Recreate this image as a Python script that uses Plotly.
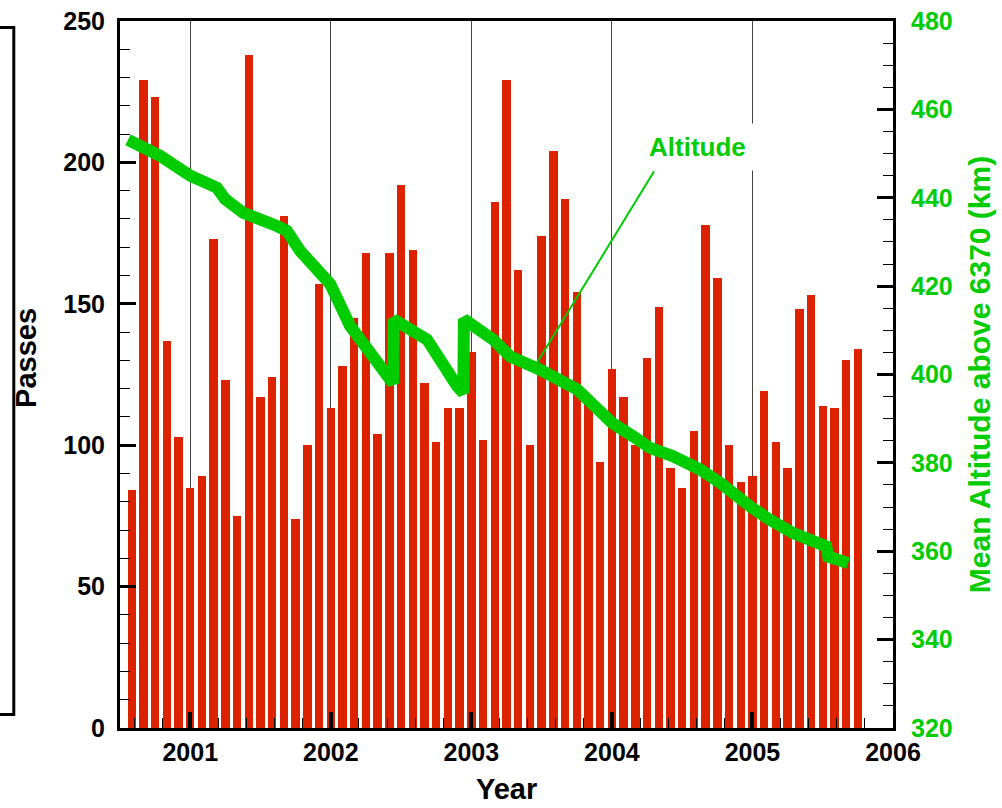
import plotly.graph_objects as go

# Monthly pass counts (bar x = decimal year of month start)
bar_years = [2000 + k / 12 for k in range(7, 70)]
passes = [84, 229, 223, 137, 103,
          85, 89, 173, 123, 75, 238, 117, 124, 181, 74, 100, 157,
          113, 128, 145, 168, 104, 168, 192, 169, 122, 101, 113, 113,
          133, 102, 186, 229, 162, 100, 174, 204, 187, 154, 117, 94,
          127, 117, 100, 131, 149, 92, 85, 105, 178, 159, 100, 87,
          89, 119, 101, 92, 148, 153, 114, 113, 130, 134]

# Mean altitude curve (decimal year, km)
alt_years = [2000.557, 2000.785, 2001.0, 2001.188, 2001.247, 2001.376, 2001.617,
             2001.688, 2001.781, 2001.995, 2002.137, 2002.279, 2002.443, 2002.447,
             2002.585, 2002.685, 2002.898, 2002.943, 2002.947, 2003.062, 2003.155,
             2003.276, 2003.489, 2003.753, 2003.824, 2003.938, 2004.002, 2004.151,
             2004.272, 2004.436, 2004.628, 2004.770, 2004.913, 2004.998, 2005.126,
             2005.290, 2005.525, 2005.539, 2005.681]
altitude = [453.1, 449.5, 445.0, 442.3, 439.7, 436.6, 433.6,
            432.5, 428.0, 420.5, 411.0, 404.9, 398.0, 412.5,
            410.2, 407.9, 397.4, 395.8, 412.5, 410.2, 407.9,
            404.1, 401.1, 396.6, 394.3, 391.3, 389.0, 386.0,
            383.4, 381.5, 378.5, 375.5, 371.7, 369.8, 367.1,
            364.1, 361.1, 358.8, 357.3]

year_ticks = [2001, 2002, 2003, 2004, 2005, 2006]
year_labels = ["2001", "2002", "2003", "2004", "2005", "2006"]

RED = "#dd2200"
GREEN = "#00cc00"
FONT = "Liberation Sans, Arial, Helvetica, sans-serif"

fig = go.Figure()
fig.add_trace(go.Bar(x=bar_years, y=passes, width=0.06,
                     marker=dict(color=RED, line=dict(width=0)),
                     showlegend=False))
fig.add_trace(go.Scatter(x=alt_years, y=altitude, yaxis="y2", mode="lines",
                         line=dict(color=GREEN, width=12), showlegend=False))

fig.update_layout(
    width=1002, height=808,
    margin=dict(l=120, r=109, t=21, b=80, pad=0),
    paper_bgcolor="white", plot_bgcolor="white",
    font=dict(family=FONT, size=25, color="black", weight="bold"),
    xaxis=dict(range=[2000.5, 2006], tickvals=year_ticks, ticktext=year_labels,
               automargin=False, ticklabeloverflow="allow",
               ticks="inside", ticklen=16, tickwidth=4, tickcolor="black",
               showline=True, linewidth=3, linecolor="black", mirror=True,
               showgrid=True, gridcolor="#444444", gridwidth=1, zeroline=False,
               ticklabelstandoff=0,
               minor=dict(dtick=0.2, tick0=2001, ticks="inside", ticklen=10,
                          tickwidth=1, tickcolor="black", showgrid=False),
               title=dict(text="")),
    yaxis=dict(range=[0, 250], dtick=50, ticks="inside", ticklen=16, tickwidth=3,
               automargin=False, ticklabeloverflow="allow",
               tickcolor="black", showline=True, linewidth=3, linecolor="black",
               mirror=True, showgrid=False, zeroline=False, ticklabelstandoff=7,
               minor=dict(dtick=10, ticks="inside", ticklen=10, tickwidth=1,
                          tickcolor="black", showgrid=False),
               title=dict(text="")),
    yaxis2=dict(range=[320, 480], dtick=20, overlaying="y", side="right",
                automargin=False, ticklabeloverflow="allow",
                ticks="inside", ticklen=16, tickwidth=3, tickcolor="black",
                showline=True, linewidth=3, linecolor="black", showgrid=False,
                zeroline=False, ticklabelstandoff=10,
                tickfont=dict(color=GREEN),
                minor=dict(dtick=5, ticks="inside", ticklen=10, tickwidth=1,
                           tickcolor="black", showgrid=False),
                title=dict(text="Mean Altitude above 6370 (km)",
                           font=dict(size=30, color=GREEN), standoff=18)),
    bargap=0,
)

# axis titles placed as text annotations (paper coordinates)
fig.add_annotation(x=0.5006, y=-0.0865, xref="paper", yref="paper", text="Year",
                   showarrow=False, font=dict(size=29), xanchor="center",
                   yanchor="middle")
fig.add_annotation(x=-0.1216, y=0.5234, xref="paper", yref="paper", text="Passes",
                   showarrow=False, font=dict(size=29), textangle=-90,
                   xanchor="center", yanchor="middle")

fig.add_annotation(x=2004.61, y=451.4, xref="x", yref="y2", text="Altitude",
                   showarrow=False, font=dict(size=26, color=GREEN),
                   bgcolor="white", borderpad=8)
fig.add_shape(type="line", xref="x", yref="y2", x0=2004.30, y0=446.0,
              x1=2003.468, y1=402.7, line=dict(color=GREEN, width=2))
fig.add_shape(type="path", xref="paper", yref="paper",
              path="M -0.1552 0.9908 L -0.1374 0.9908 L -0.1374 0.0191 L -0.1552 0.0191",
              line=dict(color="black", width=3))

fig.write_html("out.html", config={"displayModeBar": False},
               post_script="document.body.style.margin='0';")
